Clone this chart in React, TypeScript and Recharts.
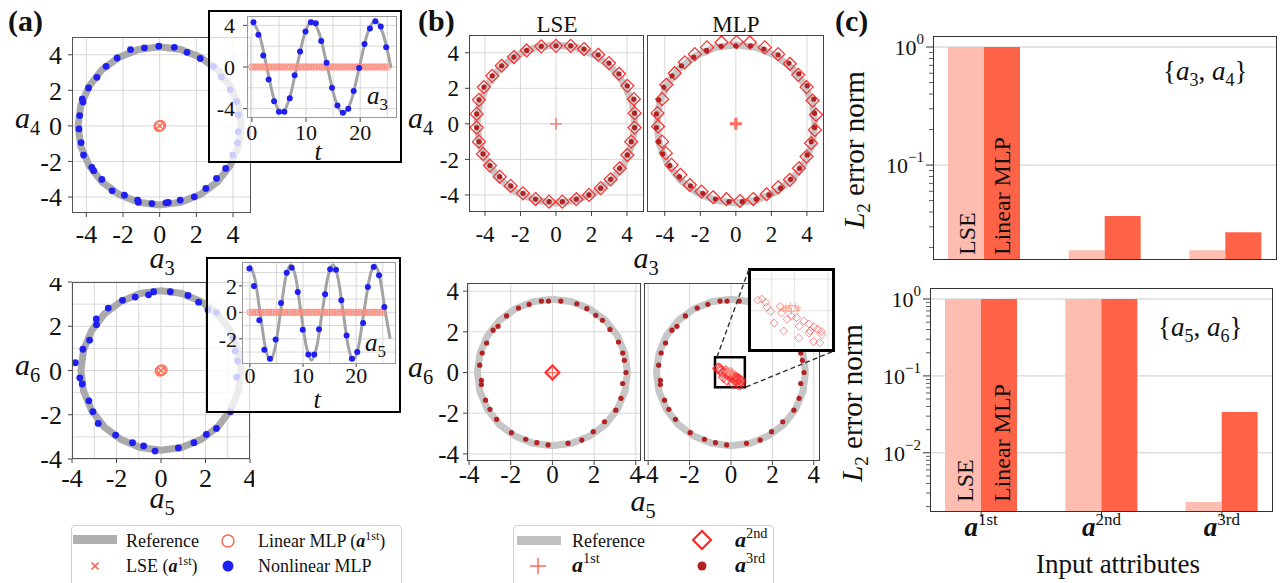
import React from 'react';
import { ScatterChart, Scatter, XAxis, YAxis, CartesianGrid, ReferenceArea, BarChart, Bar } from 'recharts';

const SERIF = '"Liberation Serif", "DejaVu Serif", serif';

// gray reference orbits
const ringA34 = [
  [4.45, 0], [4.3, 1.15], [3.85, 2.23], [3.15, 3.15], [2.23, 3.85], [1.15, 4.3], [0, 4.45],
  [-1.15, 4.3], [-2.23, 3.85], [-3.15, 3.15], [-3.85, 2.23], [-4.3, 1.15], [-4.45, 0],
  [-4.3, -1.15], [-3.85, -2.23], [-3.15, -3.15], [-2.23, -3.85], [-1.15, -4.3], [0, -4.45],
  [1.15, -4.3], [2.23, -3.85], [3.15, -3.15], [3.85, -2.23], [4.3, -1.15], [4.45, 0],
];
const ringA56 = [
  [3.6, 0], [3.48, 0.93], [3.12, 1.8], [2.55, 2.55], [1.8, 3.12], [0.93, 3.48], [0, 3.6],
  [-0.93, 3.48], [-1.8, 3.12], [-2.55, 2.55], [-3.12, 1.8], [-3.48, 0.93], [-3.6, 0],
  [-3.48, -0.93], [-3.12, -1.8], [-2.55, -2.55], [-1.8, -3.12], [-0.93, -3.48], [0, -3.6],
  [0.93, -3.48], [1.8, -3.12], [2.55, -2.55], [3.12, -1.8], [3.48, -0.93], [3.6, 0],
];

// (a) nonlinear MLP on the planes
const nlA34 = [
  [-1.59, 4.29], [-0.83, 4.39], [-0.05, 4.48], [0.8, 4.42], [1.49, 4.14], [2.21, 3.79], [2.93, 3.35],
  [3.37, 2.75], [3.84, 2.03], [4.2, 1.37], [4.29, 0.62], [4.28, -0.32], [4.24, -0.96], [3.98, -1.64],
  [3.6, -2.39], [3.1, -2.95], [2.52, -3.52], [1.89, -3.99], [1.12, -4.18], [0.47, -4.31], [0.34, -4.33],
  [-0.42, -4.37], [-1.16, -4.29], [-1.2, -4.18], [-1.92, -3.9], [-2.59, -3.65], [-3.15, -3.01],
  [-3.6, -2.52], [-3.7, -2.33], [-4.15, -1.64], [-4.28, -0.94], [-4.4, -0.17], [-4.36, 0.58],
  [-4.18, 1.34], [-4.22, 1.5], [-3.88, 2.13], [-3.42, 2.73], [-2.92, 3.35], [-2.32, 3.82],
];
const nlA56 = [
  [-3.85, 0.35], [-3.65, -0.33], [-3.54, -0.61], [-3.51, 0.96], [-3.21, 1.37], [-2.91, 2.33], [-2.9, 2.07],
  [-2.37, 2.82], [-1.73, 3.17], [-1.16, 3.32], [-0.56, 3.42], [-0.33, 3.56], [0.42, 3.56], [1.21, 3.39],
  [1.69, 3.09], [2.11, 2.74], [2.49, 2.63], [3.24, 1.46], [3.33, 0.88], [3.44, 0.43], [3.4, -0.3],
  [3.12, -1.86], [2.49, -2.62], [2.04, -2.89], [1.48, -3.26], [0.78, -3.5], [-0.27, -3.64],
  [-0.78, -3.41], [-1.28, -3.26], [-2.04, -2.92], [-2.82, -2.39], [-3.06, -1.86], [-3.24, -1.37],
];
// linear MLP / LSE collapse to the origin
const linA34 = [[0, 0], [0.05, 0.03], [-0.04, -0.03]];
const linA56 = [[0, 0], [0.05, 0.03], [-0.04, -0.03]];
const lseCenter = [[0, 0]];

// (a) insets: time series
const tA3 = [0.3, 1.2, 2.1, 3.1, 4.1, 5.0, 6.0, 7.0, 7.9, 8.9, 9.9, 10.9, 11.8, 12.8, 13.8, 14.8, 15.8, 16.8, 17.8, 18.8, 19.8, 20.8, 21.8, 22.8, 23.8, 24.8];
const nlA3 = [4.3, 3.1, 1.1, -1.2, -3.3, -4.3, -4.3, -3.0, -0.8, 1.5, 3.4, 4.3, 4.2, 2.5, 0.4, -2.0, -3.7, -4.4, -4.0, -2.3, -0.1, 2.2, 3.7, 4.4, 3.9, 1.9];
const tRefA3 = [0, 1.4, 2.75, 4.1, 5.5, 6.9, 8.3, 9.7, 11.1, 12.5, 13.95, 15.4, 16.9, 18.4, 19.85, 21.3, 22.8, 24.25, 25.7];
const refA3 = [4.4, 3.1, 0, -3.1, -4.4, -3.1, 0, 3.1, 4.45, 3.15, 0, -3.15, -4.45, -3.15, 0, 3.15, 4.45, 3.15, -0.1];

const tA5 = [-0.1, 0.75, 1.76, 2.7, 3.77, 4.84, 5.85, 6.92, 7.86, 9.0, 9.94, 11.0, 12.1, 13.0, 14.15, 15.1, 16.2, 17.2, 18.2, 19.2, 20.2, 21.3, 22.2, 23.3, 24.3, 25.3];
const nlA5 = [3.31, 1.99, -0.6, -2.83, -3.51, -2.05, 0.71, 2.98, 3.36, 1.54, -1.31, -3.18, -3.18, -1.28, 1.36, 3.26, 3.21, 0.91, -1.74, -3.51, -3.0, -0.81, 1.92, 3.43, 2.8, 0.4];
const tRefA5 = [0, 0.95, 1.9, 2.85, 3.8, 4.8, 5.75, 6.7, 7.7, 8.65, 9.6, 10.6, 11.55, 12.6, 13.6, 14.6, 15.65, 16.6, 17.55, 18.5, 19.45, 20.45, 21.45, 22.5, 23.5, 24.5, 25.5, 26.4];
const refA5 = [3.55, 2.5, 0, -2.55, -3.6, -2.55, 0, 2.55, 3.6, 2.55, 0, -2.55, -3.6, -2.55, 0, 2.55, 3.6, 2.55, 0, -2.55, -3.6, -2.55, 0, 2.55, 3.6, 2.55, 0, -2.0];

// linear MLP output in time, ~0 everywhere
const tLin = [0, 0.5, 1, 1.5, 2, 2.5, 3, 3.5, 4, 4.5, 5, 5.5, 6, 6.5, 7, 7.5, 8, 8.5, 9, 9.5, 10, 10.5, 11, 11.5, 12, 12.5, 13, 13.5, 14, 14.5, 15, 15.5, 16, 16.5, 17, 17.5, 18, 18.5, 19, 19.5, 20, 20.5, 21, 21.5, 22, 22.5, 23, 23.5, 24, 24.5, 25];

// (b) {a3,a4}
const b3rdA34 = [
  [0, 4.39], [0.83, 4.39], [1.58, 4.21], [2.38, 3.89], [2.99, 3.42], [3.55, 2.82], [4.02, 2.14], [4.39, 1.39],
  [4.43, 0.6], [4.43, -0.21], [4.24, -1.0], [4.02, -1.75], [3.59, -2.5], [3.08, -3.12], [2.52, -3.62],
  [1.86, -4.0], [1.15, -4.24], [0.36, -4.38], [-0.39, -4.38], [-1.15, -4.23], [-1.86, -3.91], [-2.55, -3.49],
  [-3.17, -2.97], [-3.72, -2.35], [-4.11, -1.69], [-4.34, -1.0], [-4.47, -0.21], [-4.47, 0.56], [-4.34, 1.35],
  [-4.06, 2.07], [-3.59, 2.7], [-3.06, 3.27], [-2.37, 3.76], [-1.65, 4.13], [-0.83, 4.36],
];
const b2ndMlpA34 = [
  [0.04, 4.6], [0.79, 4.58], [1.63, 4.3], [2.38, 3.92], [3.04, 3.38], [3.51, 2.76], [3.98, 2.07], [4.32, 1.31],
  [4.51, 0.51], [4.45, -0.34], [4.23, -1.09], [3.98, -1.84], [3.55, -2.5], [3.04, -3.15], [2.38, -3.57],
  [1.73, -3.96], [0.98, -4.23], [0.23, -4.34], [-0.53, -4.24], [-1.28, -4.13], [-1.93, -3.81], [-2.59, -3.44],
  [-3.12, -2.87], [-3.62, -2.31], [-3.94, -1.65], [-4.15, -1.0], [-4.38, -0.15], [-4.41, 0.6], [-4.15, 1.39],
  [-3.91, 2.2], [-3.44, 2.85], [-2.87, 3.46], [-2.31, 3.92], [-1.62, 4.3], [-0.81, 4.58],
];
// (b) {a5,a6}
const b3rdA56 = [
  [-0.53, 3.51], [-0.19, 3.51], [0.4, 3.51], [1.17, 3.38], [1.65, 3.14], [2.08, 2.81], [2.4, 2.57], [2.76, 2.12],
  [3.17, 1.5], [3.37, 0.96], [3.45, 0.6], [3.53, 0], [3.37, -0.54], [3.29, -1.27], [3.04, -1.85], [2.5, -2.42],
  [1.96, -2.91], [1.41, -3.32], [0.75, -3.48], [-0.21, -3.56], [-0.75, -3.45], [-1.28, -3.28], [-1.97, -2.96],
  [-2.68, -2.3], [-3.0, -1.81], [-3.21, -1.36], [-3.41, -0.38], [-3.41, -0.59], [-3.49, 0.36], [-3.37, 0.96],
  [-3.16, 1.45], [-2.85, 2.08], [-2.61, 2.27], [-2.2, 2.78], [-1.63, 3.17], [-1.12, 3.35],
];
const b2ndMlpA56 = [
  [-0.65, 0.2], [-0.58, 0.22], [-0.51, 0.16], [-0.49, 0.07], [-0.42, -0.01], [-0.36, -0.23], [-0.25, 0.08],
  [-0.23, -0.04], [-0.19, -0.38], [-0.13, -0.16], [-0.05, -0.1], [0.04, -0.13], [0.09, -0.29], [0.08, -0.51],
  [0.17, -0.19], [0.26, -0.25], [0.28, -0.38], [0.35, -0.3], [0.41, -0.35], [0.48, -0.39], [0.49, -0.45],
  [0.34, -0.58], [0.45, -0.6], [0.26, -0.42],
];
const b1stMlpA56 = [[-0.2, 0.04], [-0.15, 0.08], [-0.07, 0.1], [0.02, 0.09], [0.07, 0.05], [0.05, 0], [-0.05, -0.01], [-0.15, 0], [-0.1, 0.05]];
const zoomBox = { x1: -0.77, x2: 0.67, y1: -0.72, y2: 0.75 };

// (c) L2 error norms
const attrs = ['1st', '2nd', '3rd'];
const lseA34 = [1.0, 0.019, 0.019];
const mlpA34 = [1.0, 0.037, 0.027];
const lseA56 = [1.0, 1.0, 0.0023];
const mlpA56 = [1.0, 1.0, 0.034];
const ticksA34 = [0.02, 0.03, 0.04, 0.05, 0.06, 0.07, 0.08, 0.09, 0.1, 0.2, 0.3, 0.4, 0.5, 0.6, 0.7, 0.8, 0.9, 1];
const ticksA56 = [0.002, 0.003, 0.004, 0.005, 0.006, 0.007, 0.008, 0.009, 0.01, 0.02, 0.03, 0.04, 0.05, 0.06, 0.07, 0.08, 0.09, 0.1, 0.2, 0.3, 0.4, 0.5, 0.6, 0.7, 0.8, 0.9, 1];

const xy = (a: number[][]) => a.map(([x, y]) => ({ x, y }));
const ts = (t: number[], v: number[]) => t.map((x, i) => ({ x, y: v[i] }));

const ev = [-4, -2, 0, 2, 4];
const ints = [-4, -3, -2, -1, 0, 1, 2, 3, 4];

// marker shapes
const Empty = () => <g />;
const dot = (r: number, c: string) => (p: any) => <circle cx={p.cx} cy={p.cy} r={r} fill={c} />;
const ring = (r: number, c: string, w: number) => (p: any) => <circle cx={p.cx} cy={p.cy} r={r} fill="none" stroke={c} strokeWidth={w} />;
const xMark = (s: number, c: string, w: number) => (p: any) => (
  <path d={`M${p.cx - s},${p.cy - s}L${p.cx + s},${p.cy + s}M${p.cx - s},${p.cy + s}L${p.cx + s},${p.cy - s}`} stroke={c} strokeWidth={w} />
);
const plus = (s: number, c: string, w: number) => (p: any) => (
  <path d={`M${p.cx - s},${p.cy}H${p.cx + s}M${p.cx},${p.cy - s}V${p.cy + s}`} stroke={c} strokeWidth={w} />
);
const diamond = (s: number, c: string, w: number, o = 1) => (p: any) => (
  <path d={`M${p.cx},${p.cy - s}L${p.cx + s},${p.cy}L${p.cx},${p.cy + s}L${p.cx - s},${p.cy}Z`} fill="none" stroke={c} strokeWidth={w} strokeOpacity={o} />
);
const circX = (p: any) => (
  <g>
    <circle cx={p.cx} cy={p.cy} r={3.2} fill="none" stroke="#ff8878" strokeWidth={0.9} />
    <path d={`M${p.cx - 2},${p.cy - 2}L${p.cx + 2},${p.cy + 2}M${p.cx - 2},${p.cy + 2}L${p.cx + 2},${p.cy - 2}`} stroke="#ff8878" strokeWidth={0.8} />
  </g>
);

const PL = 70, PB = 44, PT = 4, PR = 4;

function Plot({ r, xd, yd, xt, yt, gx, gy, fs, xm, ym, tl = 4, noY = false, frame = '#555', grid = '#d8d8d8', children }: any) {
  const tickStyle = { fontSize: fs, fill: '#111', fontFamily: SERIF };
  return (
    <>
      <div style={{ position: 'absolute', left: r.x - PL, top: r.y - PT }}>
        <ScatterChart width={r.w + PL + PR} height={r.h + PT + PB} margin={{ top: PT, right: PR, bottom: 0, left: 0 }}>
          <CartesianGrid stroke={grid} verticalValues={gx} horizontalValues={gy} />
          <XAxis type="number" dataKey="x" domain={xd} allowDataOverflow ticks={xt || []} interval={0} height={PB}
            axisLine={false} tick={xt ? tickStyle : false} tickLine={xt ? { stroke: '#444' } : false} tickSize={tl} tickMargin={xm} />
          <YAxis type="number" dataKey="y" domain={yd} allowDataOverflow ticks={yt} interval={0} width={PL}
            axisLine={false} tick={noY ? false : tickStyle} tickLine={noY ? false : { stroke: '#444' }} tickSize={tl} tickMargin={ym} />
          {children}
        </ScatterChart>
      </div>
      <div style={{ position: 'absolute', left: r.x, top: r.y, width: r.w, height: r.h, border: `1px solid ${frame}`, boxSizing: 'border-box', pointerEvents: 'none' }} />
    </>
  );
}

const Box = ({ r, bw = 2, bg = 'rgba(255,255,255,0.78)' }: any) => (
  <div style={{ position: 'absolute', left: r.x, top: r.y, width: r.w, height: r.h, border: `${bw}px solid #000`, boxSizing: 'border-box', background: bg }} />
);

const LogTick = (p: any) => {
  const v = p.payload.value;
  const e = Math.log10(v);
  const major = Math.abs(e - Math.round(e)) < 1e-6;
  const n = Math.round(e);
  return (
    <g>
      <line x1={p.x} x2={p.x - (major ? 7 : 4)} y1={p.y} y2={p.y} stroke="#333" strokeWidth={major ? 1 : 0.8} />
      {major && (
        <text x={p.x - 9} y={p.y + 8} textAnchor="end" fontFamily={SERIF} fontSize={22} fill="#111">
          <tspan>10</tspan>
          <tspan dy={-11} fontSize={15}>{n === 0 ? '0' : '\u2212' + Math.abs(n)}</tspan>
        </text>
      )}
    </g>
  );
};

const AttrTick = (p: any) => (
  <text x={p.x} y={p.y + 17} textAnchor="middle" fontFamily={SERIF} fill="#111">
    <tspan fontSize={27} fontWeight="bold" fontStyle="italic">a</tspan>
    <tspan fontSize={17} dy={-11}>{p.payload.value}</tspan>
  </text>
);

function BarPanel({ r, lse, mlp, domain, ticks, grid, showX }: any) {
  const L = 100, B = 60, T = 6, R = 4;
  const data = attrs.map((a, i) => ({ attr: a, lse: lse[i], mlp: mlp[i] }));
  return (
    <>
      <div style={{ position: 'absolute', left: r.x - L, top: r.y - T }}>
        <BarChart width={r.w + L + R} height={r.h + T + B} data={data} margin={{ top: T, right: R, left: 0, bottom: 0 }} barGap={0}>
          <CartesianGrid vertical={false} stroke="#cccccc" horizontalValues={grid} />
          <XAxis dataKey="attr" type="category" height={B} padding={{ left: -9, right: -9 }} axisLine={false}
            tickLine={{ stroke: '#333' }} tickSize={5} tick={showX ? <AttrTick /> : false} interval={0} />
          <YAxis type="number" scale="log" domain={domain} allowDataOverflow ticks={ticks} width={L} axisLine={false}
            tickLine={false} tickSize={0} tickMargin={0} tick={<LogTick />} interval={0} />
          <Bar dataKey="lse" fill="#fdbdb1" barSize={36} isAnimationActive={false} />
          <Bar dataKey="mlp" fill="#ff6347" barSize={36} isAnimationActive={false} />
        </BarChart>
      </div>
      <div style={{ position: 'absolute', left: r.x, top: r.y, width: r.w, height: r.h, border: '1px solid #333', boxSizing: 'border-box', pointerEvents: 'none' }} />
    </>
  );
}

const ASub = ({ x, y, sub, fs = 30, anchor = 'start' }: any) => (
  <text x={x} y={y} fontSize={fs} fontFamily={SERIF} textAnchor={anchor} fill="#111">
    <tspan fontStyle="italic">a</tspan>
    <tspan fontSize={fs * 0.68} dy={fs * 0.22}>{sub}</tspan>
  </text>
);
const ASup = ({ x, y, sup, fs = 22 }: any) => (
  <text x={x} y={y} fontSize={fs} fontFamily={SERIF} fill="#111">
    <tspan fontWeight="bold" fontStyle="italic">a</tspan>
    <tspan fontSize={fs * 0.65} dy={-fs * 0.42}>{sup}</tspan>
  </text>
);

export default function App() {
  const na = false;
  return (
    <div style={{ position: 'absolute', left: 0, top: 0, width: 1283, height: 583, overflow: 'hidden', background: '#fff', fontFamily: SERIF }}>
      <style>{`svg text, svg tspan { font-family: "Liberation Serif", "DejaVu Serif", serif; }`}</style>
      {/* (a) top */}
      <Plot r={{ x: 72, y: 37, w: 179, h: 176 }} xd={[-4.78, 4.98]} yd={[-4.9, 5.0]} xt={ev} yt={ev} gx={ev} gy={ev} fs={26} xm={8} ym={6}>
        <Scatter data={xy(ringA34)} line={{ stroke: '#a9a9a9', strokeWidth: 7 }} shape={Empty} isAnimationActive={na} />
        <Scatter data={xy(nlA34)} shape={dot(3.4, '#1f1ff2')} isAnimationActive={na} />
        <Scatter data={xy(linA34)} shape={ring(5, '#ff7058', 1.2)} isAnimationActive={na} />
        <Scatter data={xy(lseCenter)} shape={xMark(3, '#ff5a4a', 1.2)} isAnimationActive={na} />
      </Plot>
      <Box r={{ x: 208, y: 10, w: 194, h: 153 }} />
      <Plot r={{ x: 247, y: 16, w: 150, h: 102 }} xd={[-0.9, 26.8]} yd={[-4.9, 4.9]} xt={[0, 10, 20]} yt={[-4, 0, 4]}
        gx={[0, 5, 10, 15, 20, 25]} gy={[-4, -2, 0, 2, 4]} fs={22} xm={2} ym={8} frame="#999">
        <Scatter data={ts(tRefA3, refA3)} line={{ stroke: '#a3a3a3', strokeWidth: 3 }} lineJointType="monotoneX" shape={Empty} isAnimationActive={na} />
        <Scatter data={tLin.map((t) => ({ x: t, y: 0 }))} shape={circX} isAnimationActive={na} />
        <Scatter data={ts(tA3, nlA3)} shape={dot(3, '#1f1ff2')} isAnimationActive={na} />
      </Plot>

      {/* (a) bottom */}
      <Plot r={{ x: 72, y: 282, w: 178, h: 177 }} xd={[-4, 4]} yd={[-4, 4]} xt={ev} yt={ev} gx={ints} gy={ints} fs={26} xm={6} ym={6}>
        <Scatter data={xy(ringA56)} line={{ stroke: '#a9a9a9', strokeWidth: 7 }} shape={Empty} isAnimationActive={na} />
        <Scatter data={xy(nlA56)} shape={dot(3.4, '#1f1ff2')} isAnimationActive={na} />
        <Scatter data={xy(linA56)} shape={ring(5, '#ff7058', 1.2)} isAnimationActive={na} />
        <Scatter data={xy(lseCenter)} shape={xMark(3, '#ff5a4a', 1.2)} isAnimationActive={na} />
      </Plot>
      <Box r={{ x: 206, y: 257, w: 195, h: 156 }} />
      <Plot r={{ x: 242, y: 262, w: 154, h: 102 }} xd={[-1.5, 27.5]} yd={[-3.9, 3.8]} xt={[0, 10, 20]} yt={[-2, 0, 2]}
        gx={[0, 5, 10, 15, 20, 25]} gy={[-3, -2, -1, 0, 1, 2, 3]} fs={22} xm={0} ym={2} tl={3} frame="#999">
        <Scatter data={ts(tRefA5, refA5)} line={{ stroke: '#a3a3a3', strokeWidth: 3 }} lineJointType="monotoneX" shape={Empty} isAnimationActive={na} />
        <Scatter data={tLin.map((t) => ({ x: t, y: 0 }))} shape={circX} isAnimationActive={na} />
        <Scatter data={ts(tA5, nlA5)} shape={dot(3, '#1f1ff2')} isAnimationActive={na} />
      </Plot>

      {/* (b) top */}
      <Plot r={{ x: 469, y: 35, w: 175, h: 177 }} xd={[-4.9, 4.96]} yd={[-4.96, 5.0]} xt={ev} yt={ev} gx={ev} gy={ev} fs={23} xm={10} ym={6} frame="#444">
        <Scatter data={xy(ringA34)} line={{ stroke: '#c6c6c6', strokeWidth: 7 }} shape={Empty} isAnimationActive={na} />
        <Scatter data={xy(b3rdA34)} shape={diamond(6.5, '#ff2a2a', 1.2)} isAnimationActive={na} />
        <Scatter data={xy(b3rdA34)} shape={dot(2.6, '#b22222')} isAnimationActive={na} />
        <Scatter data={xy(lseCenter)} shape={plus(6, '#ff6b5b', 1.3)} isAnimationActive={na} />
      </Plot>
      <Plot r={{ x: 647, y: 35, w: 177, h: 177 }} xd={[-5.0, 4.96]} yd={[-4.96, 5.0]} xt={ev} yt={ev} gx={ev} gy={ev} fs={23} xm={10} ym={6} noY frame="#444">
        <Scatter data={xy(ringA34)} line={{ stroke: '#c6c6c6', strokeWidth: 7 }} shape={Empty} isAnimationActive={na} />
        <Scatter data={xy(b2ndMlpA34)} shape={diamond(6.5, '#ff2a2a', 1.2)} isAnimationActive={na} />
        <Scatter data={xy(b3rdA34)} shape={dot(2.6, '#b22222')} isAnimationActive={na} />
        <Scatter data={xy(lseCenter)} shape={plus(6, '#ff6b5b', 3)} isAnimationActive={na} />
      </Plot>

      {/* (b) bottom */}
      <Plot r={{ x: 467, y: 283, w: 174, h: 178 }} xd={[-4.1, 4.25]} yd={[-4.35, 4.4]} xt={ev} yt={ev} gx={ev} gy={ev} fs={25} xm={0} ym={4} frame="#444">
        <Scatter data={xy(ringA56)} line={{ stroke: '#c6c6c6', strokeWidth: 7 }} shape={Empty} isAnimationActive={na} />
        <Scatter data={xy(b3rdA56)} shape={dot(2.6, '#b22222')} isAnimationActive={na} />
        <Scatter data={xy(lseCenter)} shape={diamond(7, '#ff2a2a', 2)} isAnimationActive={na} />
        <Scatter data={xy(lseCenter)} shape={plus(4.5, '#ff6b5b', 1.2)} isAnimationActive={na} />
      </Plot>
      <Plot r={{ x: 644, y: 283, w: 176, h: 178 }} xd={[-4.2, 4.3]} yd={[-4.35, 4.4]} xt={ev} yt={ev} gx={ev} gy={ev} fs={25} xm={0} ym={4} noY frame="#444">
        <Scatter data={xy(ringA56)} line={{ stroke: '#c6c6c6', strokeWidth: 7 }} shape={Empty} isAnimationActive={na} />
        <Scatter data={xy(b3rdA56)} shape={dot(2.6, '#b22222')} isAnimationActive={na} />
        <Scatter data={xy(b2ndMlpA56)} shape={diamond(5, '#ff2a2a', 1.1, 0.75)} isAnimationActive={na} />
        <Scatter data={xy(b1stMlpA56)} shape={plus(3.5, '#ff8a7a', 1)} isAnimationActive={na} />
        <ReferenceArea {...zoomBox} fill="none" fillOpacity={0} stroke="#000" strokeWidth={2.5} ifOverflow="visible" />
      </Plot>
      <Box r={{ x: 748, y: 268, w: 87, h: 84 }} bw={3} bg="#fff" />
      <div style={{ position: 'absolute', left: 751, top: 271 }}>
        <ScatterChart width={81} height={78} margin={{ top: 0, right: 0, bottom: 0, left: 0 }}>
          <CartesianGrid stroke="#e2e2e2" verticalValues={[-0.6, -0.4, -0.2, 0, 0.2, 0.4, 0.6]} horizontalValues={[-0.6, -0.4, -0.2, 0, 0.2, 0.4, 0.6]} />
          <XAxis type="number" dataKey="x" domain={[zoomBox.x1, zoomBox.x2]} allowDataOverflow hide />
          <YAxis type="number" dataKey="y" domain={[zoomBox.y1, zoomBox.y2]} allowDataOverflow hide />
          <Scatter data={xy(b2ndMlpA56)} shape={diamond(4, '#ff2a2a', 0.9, 0.6)} isAnimationActive={na} />
          <Scatter data={xy(b1stMlpA56)} shape={plus(3, '#ff9080', 0.8)} isAnimationActive={na} />
        </ScatterChart>
      </div>

      {/* (c) */}
      <BarPanel r={{ x: 933, y: 36, w: 344, h: 224 }} lse={lseA34} mlp={mlpA34} domain={[0.0157, 1.24]} ticks={ticksA34} grid={[0.1, 1]} showX={false} />
      <BarPanel r={{ x: 930, y: 288, w: 343, h: 224 }} lse={lseA56} mlp={mlpA56} domain={[0.0017, 1.39]} ticks={ticksA56} grid={[0.01, 0.1, 1]} showX />

      {/* legends */}
      <div style={{ position: 'absolute', left: 71, top: 525, width: 331, height: 70, border: '1px solid #d0d0d0', borderRadius: 4, boxSizing: 'border-box' }} />
      <div style={{ position: 'absolute', left: 513, top: 525, width: 261, height: 70, border: '1px solid #d0d0d0', borderRadius: 4, boxSizing: 'border-box' }} />

      <svg width={1283} height={583} style={{ position: 'absolute', left: 0, top: 0, pointerEvents: 'none' }}>
        <g fontFamily={SERIF} fill="#111">
          <text x={8} y={31} fontSize={30} fontWeight="bold">(a)</text>
          <text x={418} y={31} fontSize={30} fontWeight="bold">(b)</text>
          <text x={835} y={31} fontSize={30} fontWeight="bold">(c)</text>
          <text x={557} y={32} fontSize={23} textAnchor="middle">LSE</text>
          <text x={736} y={32} fontSize={23} textAnchor="middle">MLP</text>
          <text x={318} y={160} fontSize={26} fontStyle="italic" textAnchor="middle">t</text>
          <text x={317} y={408} fontSize={26} fontStyle="italic" textAnchor="middle">t</text>
          <text x={1118} y={573} fontSize={27} textAnchor="middle">Input attributes</text>
        </g>
        <ASub x={162} y={268} sub="3" anchor="middle" />
        <ASub x={15} y={128} sub="4" />
        <ASub x={162} y={508} sub="5" anchor="middle" />
        <ASub x={15} y={375} sub="6" />
        <ASub x={646} y={268} sub="3" anchor="middle" />
        <ASub x={408} y={128} sub="4" />
        <ASub x={643} y={511} sub="5" anchor="middle" />
        <ASub x={408} y={377} sub="6" />
        <ASub x={367} y={104} sub="3" fs={25} />
        <ASub x={365} y={351} sub="5" fs={25} />

        {/* zoom connectors */}
        <line x1={717} y1={357} x2={749} y2={269} stroke="#333" strokeWidth={1.4} strokeDasharray="5,3" />
        <line x1={746} y1={387} x2={834} y2={351} stroke="#333" strokeWidth={1.4} strokeDasharray="5,3" />

        {/* (c) annotations */}
        <text transform="translate(864,150) rotate(-90)" textAnchor="middle" fontSize={29} fontFamily={SERIF} fill="#111">
          <tspan fontStyle="italic">L</tspan><tspan fontSize={19} dy={6}>2</tspan><tspan dy={-6}> error norm</tspan>
        </text>
        <text transform="translate(862,403) rotate(-90)" textAnchor="middle" fontSize={29} fontFamily={SERIF} fill="#111">
          <tspan fontStyle="italic">L</tspan><tspan fontSize={19} dy={6}>2</tspan><tspan dy={-6}> error norm</tspan>
        </text>
        <g fontSize={24} fontFamily={SERIF} fill="#111">
          <text transform="translate(975,255) rotate(-90)">LSE</text>
          <text transform="translate(1010,255) rotate(-90)">Linear MLP</text>
          <text transform="translate(973,502) rotate(-90)">LSE</text>
          <text transform="translate(1010,502) rotate(-90)">Linear MLP</text>
        </g>
        <text x={1163} y={80} fontSize={27} fontFamily={SERIF} fill="#111">
          {'{'}<tspan fontStyle="italic">a</tspan><tspan fontSize={18} dy={6}>3</tspan><tspan dy={-6}>, </tspan>
          <tspan fontStyle="italic">a</tspan><tspan fontSize={18} dy={6}>4</tspan><tspan dy={-6}>{'}'}</tspan>
        </text>
        <text x={1158} y={336} fontSize={27} fontFamily={SERIF} fill="#111">
          {'{'}<tspan fontStyle="italic">a</tspan><tspan fontSize={18} dy={6}>5</tspan><tspan dy={-6}>, </tspan>
          <tspan fontStyle="italic">a</tspan><tspan fontSize={18} dy={6}>6</tspan><tspan dy={-6}>{'}'}</tspan>
        </text>

        {/* legend (a) */}
        <rect x={73} y={535} width={44} height={9} fill="#b0b0b0" />
        <circle cx={228} cy={541} r={6} fill="none" stroke="#ff6a50" strokeWidth={1.5} />
        <path d="M91.5,562.5L98.5,569.5M91.5,569.5L98.5,562.5" stroke="#ff5a4a" strokeWidth={1.5} />
        <circle cx={228} cy={566} r={5.5} fill="#1f1ff2" />
        <g fontSize={18} fontFamily={SERIF} fill="#111">
          <text x={126} y={547}>Reference</text>
          <text x={258} y={547}>Linear MLP (<tspan fontWeight="bold" fontStyle="italic">a</tspan><tspan fontSize={12} dy={-7}>1st</tspan><tspan dy={7}>)</tspan></text>
          <text x={126} y={572}>LSE (<tspan fontWeight="bold" fontStyle="italic">a</tspan><tspan fontSize={12} dy={-7}>1st</tspan><tspan dy={7}>)</tspan></text>
          <text x={258} y={572}>Nonlinear MLP</text>
        </g>

        {/* legend (b) */}
        <rect x={517} y={536} width={44} height={9} fill="#c0c0c0" />
        <path d="M702,531L711,540L702,549L693,540Z" fill="none" stroke="#ff2020" strokeWidth={2} />
        <path d="M530,566H546M538,558V574" stroke="#ff6b5b" strokeWidth={1.5} />
        <circle cx={702} cy={566} r={4.5} fill="#b22222" />
        <text x={572} y={547} fontSize={18} fontFamily={SERIF} fill="#111">Reference</text>
        <ASup x={735} y={547} sup="2nd" />
        <ASup x={572} y={572} sup="1st" />
        <ASup x={735} y={572} sup="3rd" />
      </svg>
    </div>
  );
}
